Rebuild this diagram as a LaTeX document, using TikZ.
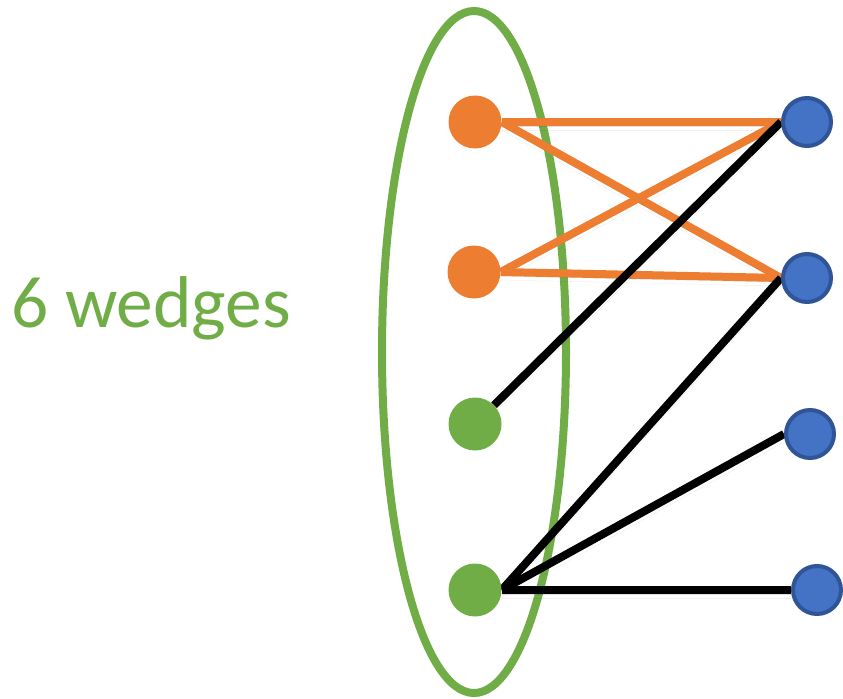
\documentclass[tikz,border=0pt]{standalone}
\usepackage{fontspec}
\setmainfont{Carlito}
\usetikzlibrary{backgrounds}
\definecolor{wedgegreen}{HTML}{70AD47}
\definecolor{wedgeorange}{HTML}{ED7D31}
\definecolor{bluefill}{HTML}{4472C4}
\definecolor{bluerim}{HTML}{2F5597}
\begin{document}
\begin{tikzpicture}[x=0.75pt,y=-0.75pt,
    leftdot/.style={circle,inner sep=0pt,minimum size=39.75pt},
    rightdot/.style={circle,draw=bluerim,fill=bluefill,line width=3pt,inner sep=0pt,minimum size=36pt},
    edge/.style={line width=6pt,
        preaction={draw=black,opacity=0.12,transform canvas={shift={(0,4)}}},
        preaction={draw=black,opacity=0.06,transform canvas={shift={(0,8)}}}}]
    \useasboundingbox (0,0) rectangle (843,699);

    % Label
    \node[wedgegreen,anchor=base west,inner sep=0pt,font=\fontsize{55}{60}\selectfont] (label) at (11,327) {6 wedges};

    % Left nodes
    \node[leftdot,fill=wedgeorange] (u1) at (475,122) {};
    \node[leftdot,fill=wedgeorange] (u2) at (474,272) {};
    \node[leftdot,fill=wedgegreen] (u3) at (475,424) {};
    \node[leftdot,fill=wedgegreen] (u4) at (475,590) {};

    % Right nodes
    \node[rightdot] (v1) at (807,122) {};
    \node[rightdot] (v2) at (807,278) {};
    \node[rightdot] (v3) at (810,434) {};
    \node[rightdot] (v4) at (817,590) {};

    \begin{scope}[on background layer]
        % Ellipse
        \draw[wedgegreen,line width=6pt] (474,352) ellipse [x radius=92,y radius=341];

        % Orange edges
        \draw[edge,wedgeorange] (u1.east) -- (v1.west);
        \draw[edge,wedgeorange] (u1.east) -- (v2.west);
        \draw[edge,wedgeorange] (u2.east) -- (v1.west);
        \draw[edge,wedgeorange] (u2.east) -- (v2.west);

        % Black edges
        \draw[edge,black] (u3) -- (v1.west);
        \draw[edge,black] (u4.east) -- (v2.west);
        \draw[edge,black] (u4.east) -- (v3.west);
        \draw[edge,black] (u4.east) -- (v4.west);
    \end{scope}
\end{tikzpicture}
\end{document}
